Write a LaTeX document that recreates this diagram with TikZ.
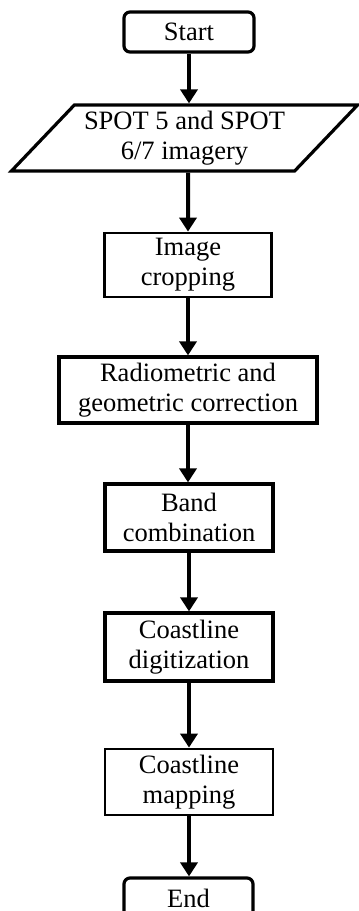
\documentclass[tikz,border=0pt]{standalone}
\usepackage{fontspec}
\setmainfont{Liberation Serif}
\usetikzlibrary{arrows.meta,shapes.geometric}
\begin{document}
\begin{tikzpicture}[x=1pt,y=-1pt,
  box/.style={draw=black, line width=2.8pt, inner sep=0pt, align=center,
    font=\fontsize{26.5}{30}\selectfont},
  term/.style={box, line width=3.2pt, rounded corners=6pt, minimum width=130pt, minimum height=40pt},
  proc/.style={box, minimum height=66pt},
  data/.style={box, line width=3.2pt, trapezium, trapezium left angle=43.3, trapezium right angle=136.7,
    trapezium stretches=true, minimum width=347pt, minimum height=66pt},
  flow/.style={line width=4pt, -{Triangle[length=14pt,width=17pt]}}]
\useasboundingbox (0,0) rectangle (359,911);
\node[term] (start) at (189,32) {Start};
\node[data] (input) at (184.5,138) {SPOT 5 and SPOT\\6/7 imagery};
\node[proc, minimum width=167pt, minimum height=64pt] (crop) at (188,265) {Image\\cropping};
\node[proc, line width=3.2pt, minimum width=258pt] (corr) at (188,390) {Radiometric and\\geometric correction};
\node[proc, line width=3.2pt, minimum width=168pt, minimum height=67pt] (band) at (189,517.5) {Band\\combination};
\node[proc, line width=3.2pt, minimum width=168pt, minimum height=68pt] (digit) at (189,647) {Coastline\\digitization};
\node[proc, minimum width=168pt] (map) at (189,782) {Coastline\\mapping};
\node[term, minimum width=129pt] (end) at (188.5,898) {End};
\draw[flow] (start.south) -- (start.south |- input.north);
\draw[flow] ([xshift=3.5pt]input.south) -- (crop.north);
\draw[flow] (crop.south) -- (crop.south |- corr.north);
\draw[flow] (corr.south) -- (corr.south |- band.north);
\draw[flow] (band.south) -- (digit.north);
\draw[flow] (digit.south) -- (map.north);
\draw[flow] (map.south) -- (map.south |- end.north);
\end{tikzpicture}
\end{document}
